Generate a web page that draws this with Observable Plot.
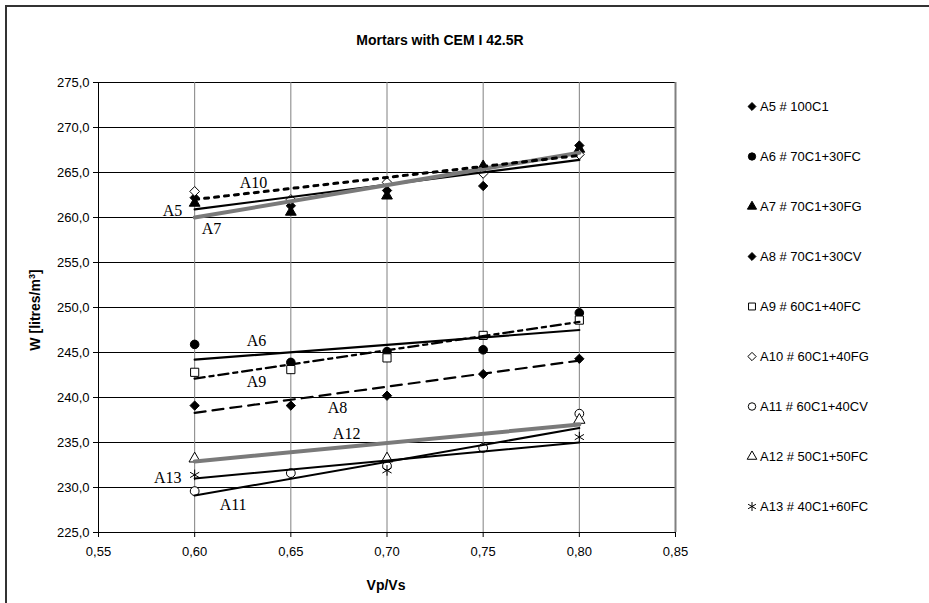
<!DOCTYPE html>
<html><head><meta charset="utf-8">
<script src="https://cdn.jsdelivr.net/npm/d3@7"></script>
<script src="https://cdn.jsdelivr.net/npm/@observablehq/plot@0.6"></script>
<style>
html,body{margin:0;padding:0;background:#fff;}
body{width:929px;height:603px;overflow:hidden;position:relative;font-family:"Liberation Sans",Arial,sans-serif;color:#000;}
#frame{position:absolute;left:5px;top:5px;width:1000px;height:1000px;border-left:2px solid #333;border-top:2px solid #333;box-sizing:border-box;}
#chart{position:absolute;left:0;top:0;}
#title{position:absolute;left:0;width:880px;top:32px;text-align:center;font-weight:bold;font-size:14px;}
#ytitle{position:absolute;left:35px;top:310px;transform:translate(-50%,-50%) rotate(-90deg);font-weight:bold;font-size:14px;white-space:nowrap;}
#ytitle sup{font-size:9px;}
#xtitle{position:absolute;left:386px;top:585px;transform:translate(-50%,-50%);font-weight:bold;font-size:14px;}
#legend{position:absolute;left:746px;top:0;font-size:13px;}
.li{position:absolute;left:0;display:flex;align-items:center;white-space:nowrap;transform:translateY(-50%);}
.li svg{margin-right:2px;}
</style></head>
<body>
<div id="frame"></div>
<div id="chart"></div>
<div id="title">Mortars with CEM I 42.5R</div>
<div id="ytitle">W [litres/m<sup>3</sup>]</div>
<div id="xtitle">Vp/Vs</div>
<div id="legend"></div>
<script>
// ---- data ----
const xVals = [0.60, 0.65, 0.70, 0.75, 0.80];
const seriesNames = ["A5","A6","A7","A8","A9","A10","A11","A12","A13"];
const legendLabels = ["A5 # 100C1","A6 # 70C1+30FC","A7 # 70C1+30FG","A8 # 70C1+30CV","A9 # 60C1+40FC","A10 # 60C1+40FG","A11 # 60C1+40CV","A12 # 50C1+50FC","A13 # 40C1+60FC"];
const A5  = [262.2, 261.3, 263.0, 263.5, 268.0];
const A6  = [245.9, 243.9, 245.1, 245.3, 249.4];
const A7  = [261.6, 260.6, 262.4, 265.7, 267.6];
const A8  = [239.1, 239.1, 240.2, 242.6, 244.3];
const A9  = [242.8, 243.1, 244.4, 246.9, 248.6];
const A10 = [262.9, 262.0, 263.9, 264.9, 267.0];
const A11 = [229.6, 231.6, 232.4, 234.4, 238.2];
const A12 = [233.2, null, 233.2, null, 237.5];
const A13 = [231.4, null, 231.9, null, 235.6];
// trend line ends (at x = 0.60 and 0.80)
const trendX = [0.60, 0.80];
const trendA5  = [260.9, 266.4];
const trendA6  = [244.2, 247.5];
const trendA7  = [260.0, 267.2];
const trendA8  = [238.3, 244.1];
const trendA9  = [242.1, 248.4];
const trendA10 = [262.0, 266.9];
const trendA11 = [229.1, 236.6];
const trendA12 = [232.9, 237.0];
const trendA13 = [231.0, 235.0];
// in-chart labels (data coordinates)
const labelText = ["A10","A5","A7","A6","A9","A8","A12","A13","A11"];
const labelX = [0.6306, 0.5885, 0.6088, 0.6322, 0.6322, 0.6743, 0.6790, 0.5860, 0.6200];
const labelY = [263.8, 260.7, 258.7, 246.3, 241.7, 238.8, 236.0, 231.1, 228.1];
const yTicks = [225,230,235,240,245,250,255,260,265,270,275];
const xTicks = [0.55,0.60,0.65,0.70,0.75,0.80,0.85];

// ---- styles ----
const values = {A5,A6,A7,A8,A9,A10,A11,A12,A13};
const trends = {A5:trendA5,A6:trendA6,A7:trendA7,A8:trendA8,A9:trendA9,A10:trendA10,A11:trendA11,A12:trendA12,A13:trendA13};
const markStyle = {
  A5:{symbol:"diamond2",fill:"#000",stroke:"#000",r:4.2},
  A6:{symbol:"circle",fill:"#000",stroke:"#000",r:4.3},
  A7:{symbol:"triangle",fill:"#000",stroke:"#000",r:4.0},
  A8:{symbol:"diamond2",fill:"#000",stroke:"#000",r:4.2},
  A9:{symbol:"square",fill:"#fff",stroke:"#000",r:4.6},
  A10:{symbol:"diamond2",fill:"#fff",stroke:"#000",r:4.4},
  A11:{symbol:"circle",fill:"#fff",stroke:"#000",r:4.4},
  A12:{symbol:"triangle",fill:"#fff",stroke:"#000",r:4.2},
  A13:{symbol:"asterisk",fill:"none",stroke:"#000",r:5.0}
};
const lineStyle = {
  A5:{stroke:"#000",w:2.2,dash:null},
  A6:{stroke:"#000",w:2.2,dash:null},
  A7:{stroke:"#7a7a7a",w:4,dash:null},
  A8:{stroke:"#000",w:2.2,dash:"11,7"},
  A9:{stroke:"#000",w:2.4,dash:"10,5,4,5"},
  A10:{stroke:"#000",w:3,dash:"4,6"},
  A11:{stroke:"#000",w:2,dash:null},
  A12:{stroke:"#7a7a7a",w:4,dash:null},
  A13:{stroke:"#000",w:2,dash:null}
};

const points = seriesNames.flatMap(s => xVals.map((x,i)=>({s, x, y: values[s][i]})).filter(d=>d.y!=null));
const trendRows = seriesNames.flatMap(s => trendX.map((x,i)=>({s, x, y: trends[s][i]})));
const labels = labelText.map((t,i)=>({t, x:labelX[i], y:labelY[i]}));
const fmt = (v,d) => v.toFixed(d).replace(".",",");

const marks = [
  Plot.ruleY(yTicks, {stroke:"#000", strokeWidth:1}),
  Plot.ruleX(xTicks.slice(1,-1), {stroke:"#808080", strokeWidth:1}),
  Plot.ruleX([0.85], {stroke:"#808080", strokeWidth:2}),
  Plot.ruleX([0.55], {stroke:"#000", strokeWidth:1}),
  Plot.ruleY([225], {stroke:"#000", strokeWidth:1})
];
for (const s of seriesNames) {
  const m = markStyle[s];
  marks.push(Plot.dot(points.filter(d=>d.s===s), {x:"x", y:"y", symbol:()=>m.symbol, r:m.r, fill:m.fill, stroke:m.stroke, strokeWidth:1}));
}
for (const s of seriesNames) {
  const l = lineStyle[s];
  const o = {x:"x", y:"y", stroke:l.stroke, strokeWidth:l.w};
  if (l.dash) o.strokeDasharray = l.dash;
  marks.push(Plot.line(trendRows.filter(d=>d.s===s), o));
}
marks.push(Plot.text(labels, {x:"x", y:"y", text:"t", fontFamily:"Liberation Serif", fontSize:16, fill:"#000"}));

const chart = Plot.plot({
  width:929, height:603,
  marginLeft:98, marginRight:254, marginTop:82, marginBottom:71,
  x:{domain:[0.55,0.85], ticks:xTicks, tickFormat:d=>fmt(d,2), tickSize:5, tickPadding:9, label:null},
  y:{domain:[225,275], ticks:yTicks, tickFormat:d=>fmt(d,1), tickSize:5, tickPadding:4, label:null},
  symbol:{type:"identity"},
  style:{fontFamily:"'Liberation Sans', Arial, sans-serif", fontSize:"13px", color:"#000", background:"transparent", overflow:"visible"},
  marks
});
document.getElementById("chart").appendChild(chart);

// legend
const leg = document.getElementById("legend");
legendLabels.forEach((lab,i)=>{
  const s = seriesNames[i], m = markStyle[s];
  const div = document.createElement("div");
  div.className = "li";
  div.style.top = (106 + i*50) + "px";
  const sym = {circle:d3.symbolCircle, diamond2:d3.symbolDiamond2, triangle:d3.symbolTriangle, square:d3.symbolSquare, asterisk:d3.symbolAsterisk}[m.symbol];
  const rr = m.r*0.85;
  const path = d3.symbol(sym, Math.PI*rr*rr)();
  div.innerHTML = `<svg width="12" height="12" viewBox="-6 -6 12 12"><path d="${path}" fill="${m.fill}" stroke="${m.stroke}" stroke-width="1"/></svg><span>${lab}</span>`;
  leg.appendChild(div);
});
</script>
</body></html>
